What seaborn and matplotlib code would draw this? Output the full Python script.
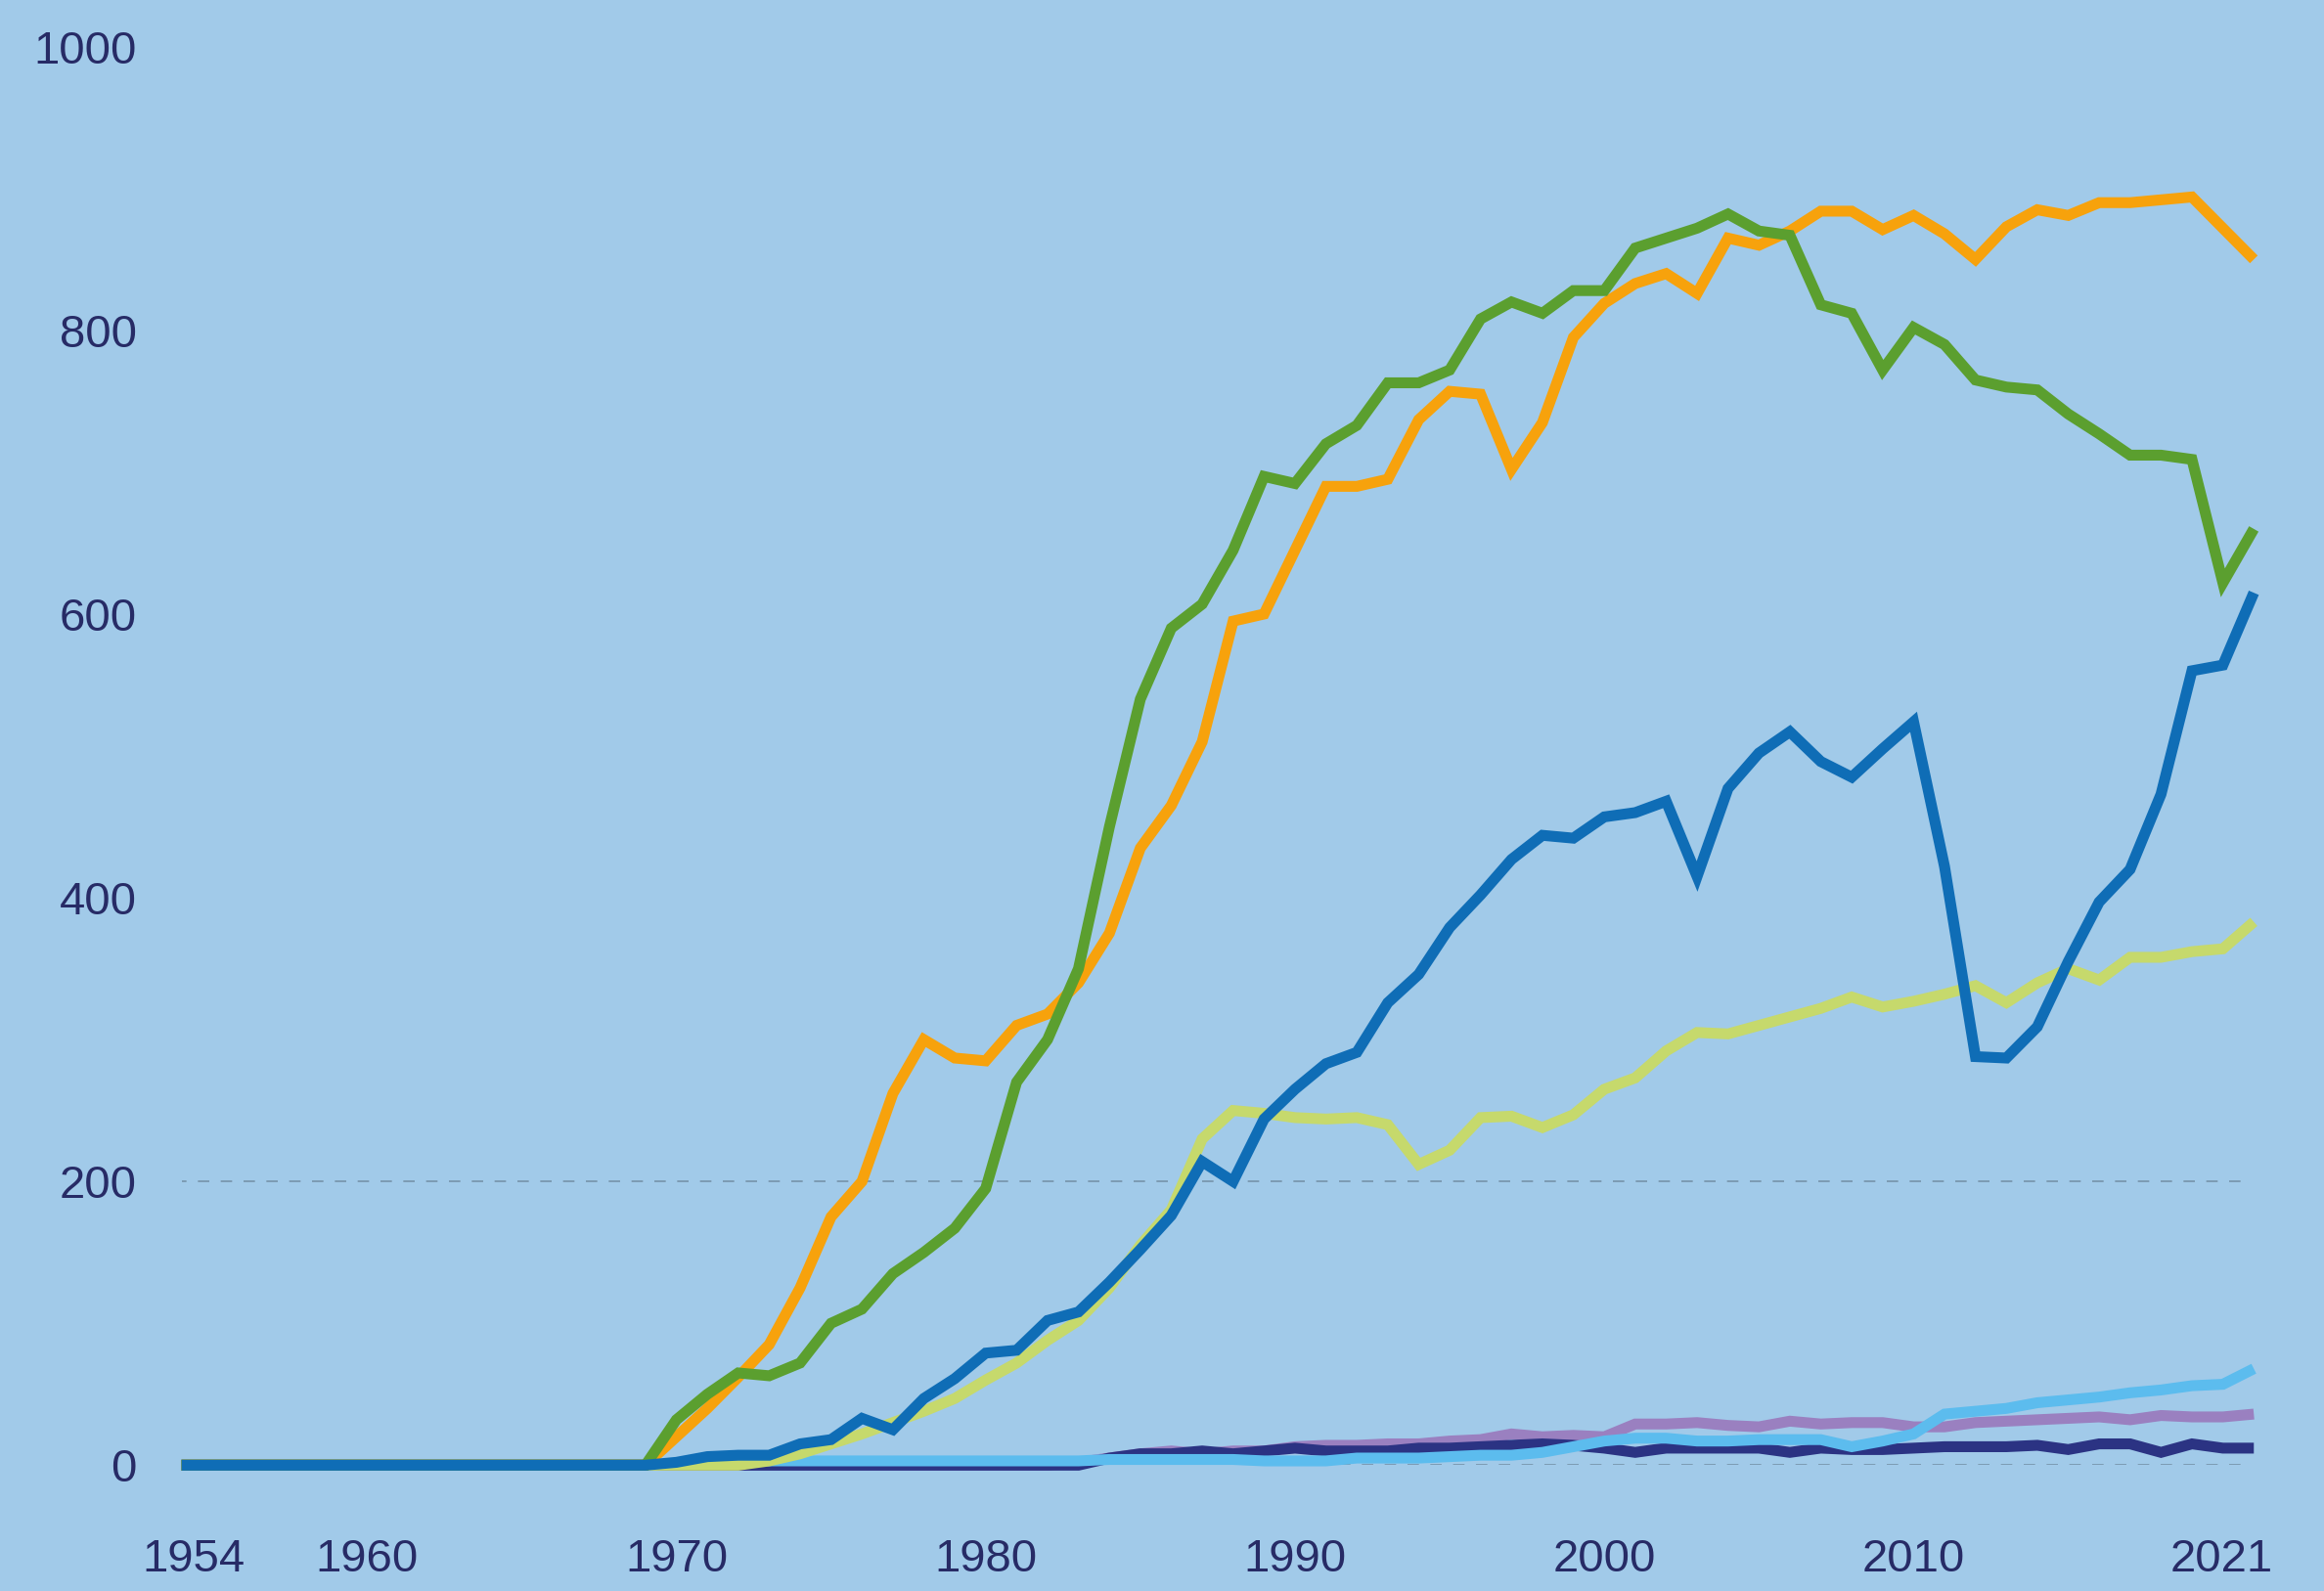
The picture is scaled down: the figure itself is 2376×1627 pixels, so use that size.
import numpy as np
import pandas as pd
import matplotlib.pyplot as plt
import matplotlib.transforms as mtransforms
import seaborn as sns

# years 1954-2021; every series is flat at zero until 1968
years = list(range(1954, 2022))
lead = [0] * 15

orange = lead + [0, 20, 40, 62, 85, 125, 175, 200, 262, 300, 287, 285, 310, 318, 340, 375,
                 435, 465, 510, 595, 600, 645, 690, 690, 695, 737, 757, 755, 702, 735, 795,
                 819, 833, 840, 826, 865, 860, 870, 884, 884, 871, 881, 868, 850, 873, 885,
                 881, 890, 890, 892, 894, 872, 850]
green = lead + [0, 32, 50, 65, 63, 72, 100, 110, 135, 150, 167, 195, 270, 300, 350, 450,
                540, 590, 607, 645, 697, 692, 720, 733, 763, 763, 772, 808, 820, 812, 828,
                828, 858, 865, 872, 882, 870, 867, 818, 812, 772, 802, 790, 765, 760, 758,
                741, 727, 712, 712, 709, 622, 660]
blue = lead + [0, 2, 6, 7, 7, 15, 18, 33, 25, 47, 61, 79, 81, 102, 108, 129, 152, 176, 214,
               200, 244, 265, 283, 291, 326, 346, 379, 402, 427, 444, 442, 457, 460, 468, 415,
               477, 502, 517, 496, 485, 505, 524, 422, 288, 287, 309, 355, 397, 420, 473, 560,
               564, 615]
lime = lead + [0, 0, 0, 0, 3, 8, 15, 22, 30, 38, 47, 60, 72, 88, 102, 125, 155, 180, 230,
               250, 248, 245, 244, 245, 240, 212, 222, 245, 246, 238, 247, 265, 273, 292, 305,
               304, 310, 316, 322, 330, 323, 327, 332, 338, 326, 340, 350, 342, 358, 358, 362,
               364, 383]
cyan = lead + [0, 1, 2, 3, 3, 3, 3, 3, 3, 3, 3, 3, 3, 3, 3, 4, 4, 4, 4, 4, 3, 3, 3, 5, 5, 5,
               6, 7, 7, 9, 13, 17, 19, 19, 17, 17, 18, 18, 18, 13, 17, 22, 36, 38, 40, 44, 46,
               48, 51, 53, 56, 57, 68]
purple = lead + [0, 0, 0, 0, 0, 0, 0, 0, 0, 0, 0, 0, 0, 0, 2, 5, 8, 10, 8, 10, 10, 13, 14, 14,
                 15, 15, 17, 18, 22, 20, 21, 20, 29, 29, 30, 28, 27, 31, 29, 30, 30, 27, 27, 30,
                 31, 32, 33, 34, 32, 35, 34, 34, 36]
navy = lead + [0, 0, 0, 0, 0, 0, 0, 0, 0, 0, 0, 0, 0, 0, 0, 5, 8, 8, 10, 8, 10, 12, 10, 10,
               10, 12, 12, 13, 14, 15, 14, 12, 9, 12, 12, 12, 12, 9, 12, 11, 11, 12, 13, 13, 13,
               14, 11, 15, 15, 9, 15, 12, 12]

x_ticks = [1954, 1960, 1970, 1980, 1990, 2000, 2010, 2021]
y_ticks = [0, 200, 400, 600, 800, 1000]
dashed_levels = [0, 200]

series = {'purple': purple, 'navy': navy, 'cyan': cyan, 'lime': lime,
          'orange': orange, 'green': green, 'blue': blue}
palette = {'purple': '#9a80c0', 'navy': '#2b3383', 'cyan': '#5cbcee', 'lime': '#c6d96c',
           'orange': '#f7a20c', 'green': '#5b9f2f', 'blue': '#0f6db6'}

df = pd.concat([pd.DataFrame({'year': years, 'value': v, 'series': k})
                for k, v in series.items()], ignore_index=True)

bg = '#a1cae9'
txt = '#272b66'

sns.set_style('white')
plt.rcParams['font.family'] = ['Liberation Sans', 'DejaVu Sans']

fig, ax = plt.subplots(figsize=(23.76, 16.27), dpi=100)
fig.patch.set_facecolor(bg)
ax.set_facecolor(bg)
fig.subplots_adjust(left=0.0781, right=0.9698, bottom=0.0791, top=0.9707)

ax.hlines(dashed_levels, 1953.8, 2020.8, colors='#7d9bb3', linestyles=(0, (6, 6)),
          linewidth=1.4, zorder=1)

sns.lineplot(data=df, x='year', y='value', hue='series', hue_order=list(series.keys()),
             palette=palette, linewidth=8, legend=False, ax=ax, zorder=3)
for ln in ax.lines:
    ln.set_clip_on(False)
    ln.set_solid_joinstyle('miter')
    ln.set_solid_capstyle('butt')

ax.set_xlim(1954, 2021)
ax.set_ylim(0, 1000)
ax.set_xticks(x_ticks)
ax.set_yticks(y_ticks)
ax.set_xlabel('')
ax.set_ylabel('')
for s in ax.spines.values():
    s.set_visible(False)
ax.tick_params(axis='both', length=0, labelsize=34, labelcolor=txt)
ax.tick_params(axis='x', pad=54)
ax.tick_params(axis='y', pad=33)

# end labels sit a little inward
xl = ax.get_xticklabels()
shifts = {0: 9, len(xl) - 1: -24}
for i, d in shifts.items():
    off = mtransforms.ScaledTranslation(d / 72, 0, fig.dpi_scale_trans)
    xl[i].set_transform(xl[i].get_transform() + off)

fig.savefig('out.png', dpi=100, facecolor=bg)
